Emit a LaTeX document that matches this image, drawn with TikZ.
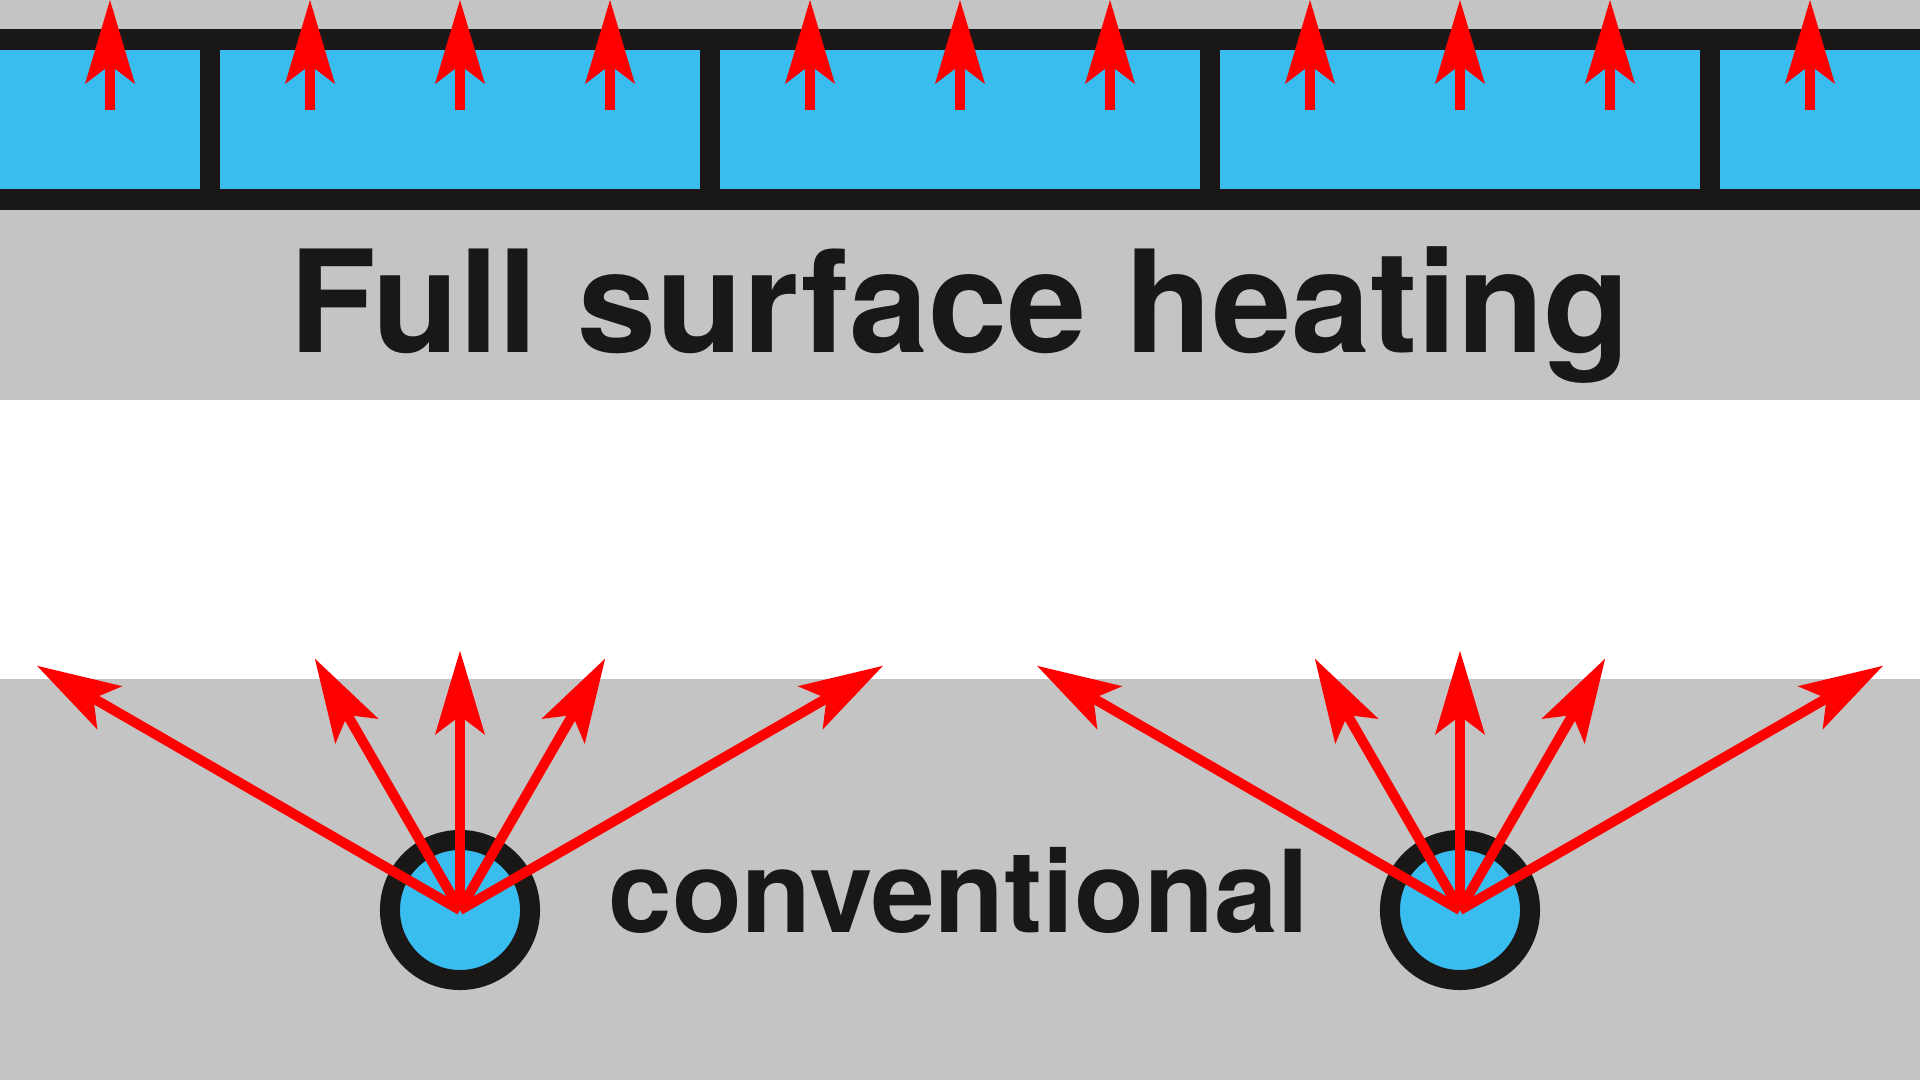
\documentclass[tikz,border=0pt]{standalone}
\usepackage{fontspec}
\setmainfont{TeX Gyre Heros}
\usetikzlibrary{arrows.meta}
\definecolor{bg}{HTML}{C4C4C4}
\definecolor{ink}{HTML}{1A1817}
\definecolor{water}{HTML}{38BDEE}
\definecolor{heat}{HTML}{FF0000}
\begin{document}
\begin{tikzpicture}[x=0.01cm,y=-0.01cm,
  heatarrow/.style={draw=heat, line width=0.1cm,
    -{Stealth[length=0.84cm,width=0.5cm,inset=0.19cm,line width=0pt]}},
  pipe/.style={circle, draw=ink, fill=water, line width=0.2cm,
    minimum size=1.4cm, inner sep=0pt},
  txt/.style={text=ink, inner sep=0pt, anchor=base}]
\useasboundingbox (0,0) rectangle (1920,1080);
\fill[white] (0,0) rectangle (1920,1080);
\fill[bg] (0,0) rectangle (1920,400);
\fill[bg] (0,679) rectangle (1920,1080);
% panel heating layer
\fill[ink] (0,29) rectangle (1920,210);
\foreach \a/\b in {0/200,220/700,720/1200,1220/1700,1720/1920}
  \fill[water] (\a,50) rectangle (\b,189);
\foreach \x in {110,310,460,610,810,960,1110,1310,1460,1610,1810} {
  \coordinate (b\x) at (\x,110);
  \coordinate (t\x) at (\x,0);
  \draw[heatarrow] (b\x) -- (t\x);
}
\node[txt, font=\bfseries\fontsize{40.4}{48}\selectfont] (title) at (960,352.7) {Full surface heating};
% conventional pipes
\node[pipe] (p1) at (460,910) {};
\node[pipe] (p2) at (1460,910) {};
\foreach \p in {p1,p2} {
  \path (\p.center) ++(150:4.88cm) coordinate (\p-a);
  \path (\p.center) ++(120:2.90cm) coordinate (\p-b);
  \path (\p.center) ++(90:2.59cm) coordinate (\p-c);
  \path (\p.center) ++(60:2.90cm) coordinate (\p-d);
  \path (\p.center) ++(30:4.88cm) coordinate (\p-e);
  \foreach \q in {a,b,c,d,e}
    \draw[heatarrow] (\p.center) -- (\p-\q);
}
\node[txt, font=\bfseries\fontsize{32.5}{40}\selectfont] (conv) at (959,933) {conventional};
\end{tikzpicture}
\end{document}
